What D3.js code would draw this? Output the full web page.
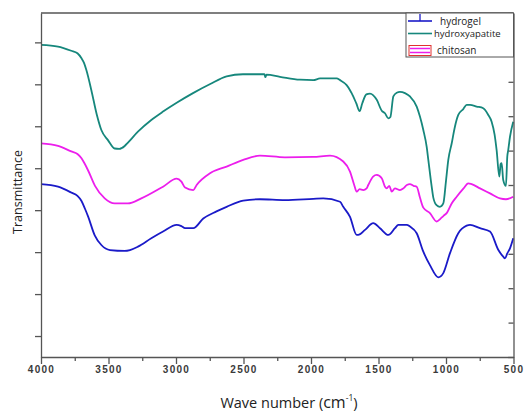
<!DOCTYPE html>
<html>
<head>
<meta charset="utf-8">
<script src="https://cdn.jsdelivr.net/npm/d3@7"></script>
<style>
  body { margin: 0; background: #fff; }
  svg { display: block; }
</style>
</head>
<body>
<div class="container"></div>
<script>
// FTIR spectra, [wave number (cm-1), transmittance (a.u.)]
const hydroxyapatite = [
  [4000, 7.94], [3874, 7.90], [3776, 7.80], [3730, 7.74], [3700, 7.62], [3680, 7.50],
  [3664, 7.34], [3627, 6.86],
  [3587, 6.28], [3553, 5.91], [3504, 5.67], [3454, 5.47], [3420, 5.46], [3380, 5.53],
  [3356, 5.61], [3282, 5.87], [3183, 6.15], [3096, 6.35], [2995, 6.56], [2874, 6.79],
  [2750, 7.00], [2625, 7.19], [2504, 7.24], [2378, 7.24], [2345, 7.24], [2338, 7.17],
  [2330, 7.23], [2230, 7.18], [2082, 7.11], [1983, 7.10], [1933, 7.14], [1810, 7.14],
  [1785, 7.10], [1736, 6.98], [1711, 6.86], [1699, 6.79], [1665, 6.55], [1640, 6.36],
  [1620, 6.55], [1590, 6.76], [1563, 6.78], [1513, 6.63], [1476, 6.37], [1452, 6.31],
  [1427, 6.19], [1412, 6.22], [1390, 6.71], [1365, 6.80], [1341, 6.82], [1304, 6.79],
  [1267, 6.71], [1217, 6.47], [1193, 6.23], [1168, 5.91], [1143, 5.51], [1131, 5.20],
  [1106, 4.56], [1094, 4.30], [1070, 4.12], [1045, 4.08], [1020, 4.16], [1000, 4.70],
  [983, 5.20], [958, 5.59], [934, 5.99], [909, 6.27], [872, 6.41], [847, 6.51],
  [822, 6.51], [773, 6.47], [724, 6.43], [687, 6.27], [662, 6.11], [640, 5.80],
  [625, 5.43], [605, 4.80], [595, 5.10], [588, 5.12], [576, 4.72], [556, 4.58],
  [546, 5.28], [539, 5.43], [526, 5.75], [502, 6.11]
];

const chitosan = [
  [4000, 5.59], [3874, 5.53], [3776, 5.40], [3730, 5.34], [3700, 5.24], [3675, 5.10],
  [3650, 4.94], [3600, 4.58],
  [3528, 4.28], [3454, 4.16], [3356, 4.16], [3257, 4.28], [3096, 4.56], [2995, 4.75],
  [2960, 4.68], [2933, 4.54], [2872, 4.48], [2847, 4.60], [2748, 4.88], [2625, 5.04],
  [2502, 5.20], [2378, 5.30], [2193, 5.26], [1983, 5.27], [1859, 5.30], [1761, 5.16],
  [1711, 4.92], [1680, 4.60], [1662, 4.44], [1640, 4.50], [1613, 4.48], [1588, 4.52],
  [1576, 4.60], [1540, 4.80], [1513, 4.84], [1476, 4.76], [1452, 4.56], [1439, 4.52],
  [1420, 4.58], [1402, 4.44], [1378, 4.52], [1341, 4.48], [1316, 4.52], [1290, 4.60],
  [1267, 4.62], [1240, 4.58], [1217, 4.56], [1193, 4.30], [1168, 4.06], [1119, 3.93],
  [1069, 3.73], [1040, 3.80], [1020, 3.86], [995, 3.93], [958, 4.16], [921, 4.32],
  [870, 4.52], [835, 4.64], [810, 4.62], [748, 4.52], [674, 4.40], [600, 4.28],
  [556, 4.26], [502, 4.32]
];

const hydrogel = [
  [4000, 4.62], [3874, 4.56], [3776, 4.42], [3730, 4.34], [3700, 4.22], [3675, 4.04],
  [3650, 3.84], [3602, 3.40],
  [3553, 3.17], [3489, 3.05], [3380, 3.03], [3341, 3.05], [3282, 3.13], [3183, 3.33],
  [3096, 3.49], [2995, 3.65], [2960, 3.62], [2933, 3.57], [2872, 3.57], [2798, 3.80],
  [2700, 3.97], [2625, 4.08], [2502, 4.23], [2378, 4.26], [2193, 4.24], [1983, 4.27],
  [1909, 4.28], [1785, 4.20], [1761, 4.08], [1711, 3.84], [1662, 3.41], [1650, 3.41],
  [1600, 3.53], [1539, 3.69], [1489, 3.57], [1427, 3.41], [1378, 3.57], [1353, 3.65],
  [1291, 3.65], [1267, 3.61], [1217, 3.45], [1168, 3.01], [1119, 2.69], [1057, 2.40],
  [1020, 2.50], [971, 2.97], [909, 3.45], [847, 3.63], [822, 3.65], [748, 3.57],
  [674, 3.49], [612, 3.05], [576, 2.89], [563, 2.85], [546, 2.97], [526, 3.09],
  [502, 3.33]
];

const seriesNames = ["hydrogel", "hydroxyapatite", "chitosan"];
const seriesColors = ["#1a1ac8", "#16877c", "#ec1eec"];
const waveTicks = [4000, 3500, 3000, 2500, 2000, 1500, 1000, 500];
const waveMinorTicks = [3750, 3250, 2750, 2250, 1750, 1250, 750];
const leftTicks = [1, 2, 3, 4, 5, 6, 7, 8];

const w = 524;
const h = 413;
const padding = {left: 41, top: 13, right: 10.5, bottom: 56};

const xScale = d3.scaleLinear()
                 .domain([4000, 500])
                 .range([padding.left, w - padding.right]);
const yScale = d3.scaleLinear()
                 .domain([0.5, 8.7])
                 .range([h - padding.bottom, padding.top]);
// right hand frame has its own 10 divisions
const yRight = d3.scaleLinear()
                 .domain([0, 100])
                 .range([h - padding.bottom, padding.top]);

const svg = d3.select(".container")
              .append("svg")
              .attr("width", w)
              .attr("height", h);

const axisColor = "#555";

// lines
const line = d3.line()
               .x(d => xScale(d[0]))
               .y(d => yScale(d[1]))
               .curve(d3.curveMonotoneX);

const data = [hydrogel, hydroxyapatite, chitosan];
svg.append("g")
   .selectAll("path")
   .data(data)
   .enter()
   .append("path")
   .attr("d", line)
   .attr("fill", "none")
   .attr("stroke", (d, i) => seriesColors[i])
   .attr("stroke-width", 1.8)
   .attr("stroke-linejoin", "round");

// x-axis
const xAxis = d3.axisBottom(xScale)
                .tickValues(waveTicks)
                .tickFormat(d3.format("d"))
                .tickSize(7)
                .tickSizeOuter(0);
const gx = svg.append("g")
   .attr("transform", "translate(0," + (h - padding.bottom) + ")")
   .attr("id", "x-axis")
   .call(xAxis);
gx.selectAll("text")
  .attr("dy", "0.55em")
  .attr("font-family", "Liberation Sans, Arial, sans-serif")
  .attr("font-weight", "bold")
  .attr("font-size", 10)
  .attr("letter-spacing", 1.3)
  .attr("fill", "#3a3a3a");
svg.append("g")
   .attr("transform", "translate(0," + (h - padding.bottom) + ")")
   .call(d3.axisBottom(xScale).tickValues(waveMinorTicks).tickSize(4).tickFormat(""))
   .select(".domain").remove();

// y-axis (left, no labels)
svg.append("g")
   .attr("transform", "translate(" + padding.left + ",0)")
   .attr("id", "y-axis")
   .call(d3.axisLeft(yScale).tickValues(leftTicks).tickSize(6).tickSizeOuter(0).tickFormat(""));

// right frame with inward ticks
svg.append("g")
   .attr("transform", "translate(" + (w - padding.right) + ",0)")
   .call(d3.axisRight(yRight).ticks(10).tickSize(-5).tickSizeOuter(0).tickFormat(""));

// top frame
svg.append("line")
   .attr("x1", padding.left).attr("x2", w - padding.right)
   .attr("y1", padding.top).attr("y2", padding.top)
   .attr("stroke", axisColor).attr("stroke-width", 1.3);

svg.selectAll(".domain, .tick line")
   .attr("stroke", axisColor)
   .attr("stroke-width", 1.3);

// legend
const lx = 406, ly = padding.top;
const legend = svg.append("g");
legend.append("rect")
      .attr("x", lx).attr("y", ly)
      .attr("width", w - padding.right - lx).attr("height", 44)
      .attr("fill", "#fff")
      .attr("stroke", axisColor).attr("stroke-width", 1);
const legendY = [21, 33.5, 50.5];
const textX = [440, 434, 437];
seriesNames.forEach((name, i) => {
  const y = legendY[i];
  if (i === 2) {
    legend.append("rect")
          .attr("x", 409).attr("y", y - 5)
          .attr("width", 22).attr("height", 10)
          .attr("fill", "none").attr("stroke", "#e03030").attr("stroke-width", 1);
    legend.append("line").attr("x1", 410).attr("x2", 430).attr("y1", y - 2).attr("y2", y - 2)
          .attr("stroke", seriesColors[i]).attr("stroke-width", 1.5);
    legend.append("line").attr("x1", 410).attr("x2", 430).attr("y1", y + 2).attr("y2", y + 2)
          .attr("stroke", seriesColors[i]).attr("stroke-width", 1.5);
  } else {
    legend.append("line")
          .attr("x1", 408).attr("x2", 432)
          .attr("y1", y).attr("y2", y)
          .attr("stroke", seriesColors[i]).attr("stroke-width", 1.6);
  }
  if (i === 0) {
    legend.append("line")
          .attr("x1", 420).attr("x2", 420)
          .attr("y1", y - 7).attr("y2", y)
          .attr("stroke", seriesColors[i]).attr("stroke-width", 1.3);
  }
  legend.append("text")
        .attr("x", textX[i]).attr("y", y + 3.5)
        .attr("font-family", "Open Sans, sans-serif")
        .attr("font-size", i === 1 ? 9.5 : 10)
        .attr("fill", "#222")
        .text(name);
});

// axis titles
const title = svg.append("text")
   .attr("x", 289).attr("y", 408)
   .attr("text-anchor", "middle")
   .attr("font-family", "Open Sans, sans-serif")
   .attr("font-size", 14.5)
   .attr("fill", "#222");
title.append("tspan").text("Wave number (");
title.append("tspan").attr("font-size", 16).text("cm");
title.append("tspan").attr("font-size", 8.5).attr("dy", -7).text("-1");
title.append("tspan").attr("dy", 7).text(")");

svg.append("text")
   .attr("transform", "translate(22,192) rotate(-90)")
   .attr("text-anchor", "middle")
   .attr("font-family", "Open Sans, sans-serif")
   .attr("font-size", 12.5)
   .attr("fill", "#222")
   .text("Transmittance");
</script>
</body>
</html>
